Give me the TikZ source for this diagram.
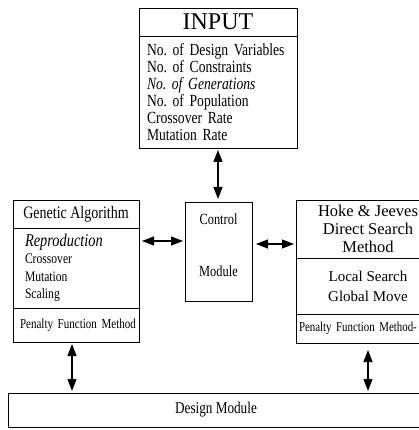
\documentclass[tikz,border=0pt]{standalone}
\usepackage{fontspec}
\setmainfont{Liberation Serif}
\newfontfamily\narrowfont[FakeStretch=0.8]{Liberation Serif}
\usetikzlibrary{arrows.meta, positioning}

\tikzset{
  box/.style={draw, line width=0.8pt, rectangle, inner sep=0pt, outer sep=0pt},
  link/.style={<->, >={Triangle[length=12pt,width=9pt]}, line width=1.1pt},
}

\begin{document}
\begin{tikzpicture}[x=1pt, y=-1pt]
    % Frame
    \clip (0,0) rectangle (419,430);
    % Input
    \node[box, minimum width=158pt, minimum height=28pt, font=\fontsize{24}{24}\selectfont] (inhead) at (218,22) {INPUT};
    \node[box, below=0pt of inhead, minimum width=158pt, minimum height=112pt, text width=142pt, align=left, font=\narrowfont\fontsize{17}{17}\selectfont] (inbody) {No.\ of Design Variables\\ No.\ of Constraints\\ \textit{No.\ of Generations}\\ No.\ of Population\\ Crossover Rate\\ Mutation Rate};
    % Genetic algorithm
    \node[box, minimum width=126pt, minimum height=28pt, font=\narrowfont\fontsize{17.5}{18}\selectfont] (gahead) at (76,214) {Genetic Algorithm};
    \node[box, below=0pt of gahead, minimum width=126pt, minimum height=80pt, text width=102pt, align=left, font=\narrowfont\fontsize{14.5}{17.5}\selectfont] (gabody) {{\fontsize{18}{18}\selectfont\itshape Reproduction}\\ Crossover\\ Mutation\\ Scaling};
    \node[box, below=0pt of gabody, minimum width=126pt, minimum height=34pt, text width=112pt, align=left, font=\narrowfont\fontsize{13.8}{15}\selectfont] (gapen) {\mbox{Penalty Function Method}};
    % Control
    \node[box, minimum width=67pt, minimum height=99pt, text depth=13pt, align=center, font=\narrowfont\fontsize{15.5}{18}\selectfont] (ctrl) at (218.5,251.5) {Control\\[34pt]Module};
    % Hoke & Jeeves
    \node[box, minimum width=144pt, minimum height=58pt, align=center, font=\fontsize{16.5}{18}\selectfont] (hjhead) at (368,229) {Hoke \& Jeeves\\ Direct Search\\ Method};
    \node[box, below=0pt of hjhead, minimum width=144pt, minimum height=56pt, align=center, font=\fontsize{15}{20}\selectfont] (hjbody) {Local Search\\ Global Move};
    \node[box, below=0pt of hjbody, minimum width=144pt, minimum height=29pt, text width=138pt, align=left, font=\narrowfont\fontsize{13.6}{15}\selectfont] (hjpen) {\mbox{Penalty Function Method-}};
    % Design module
    \node[box, minimum width=416pt, minimum height=34pt, font=\narrowfont\fontsize{16.5}{18}\selectfont] (design) at (216,410) {Design Module};
    % Links
    \coordinate (gaend) at ([yshift=10.5pt]ctrl.west);
    \coordinate (hjend) at ([yshift=7.5pt]ctrl.east);
    \coordinate (gadown) at ([xshift=-4pt]gapen.south);
    \draw[link, shorten <=2pt, shorten >=3pt] (inbody.south) -- (inbody.south |- ctrl.north);
    \draw[link, shorten <=2pt, shorten >=3pt] (gaend) -- (gaend -| gabody.east);
    \draw[link, shorten <=4pt, shorten >=2pt] (hjend) -- (hjend -| hjhead.west);
    \draw[link, shorten <=2pt, shorten >=2pt] (gadown) -- (gadown |- design.north);
    \draw[link, shorten <=7pt, shorten >=2pt] (hjpen.south) -- (hjpen.south |- design.north);
\end{tikzpicture}
\end{document}
